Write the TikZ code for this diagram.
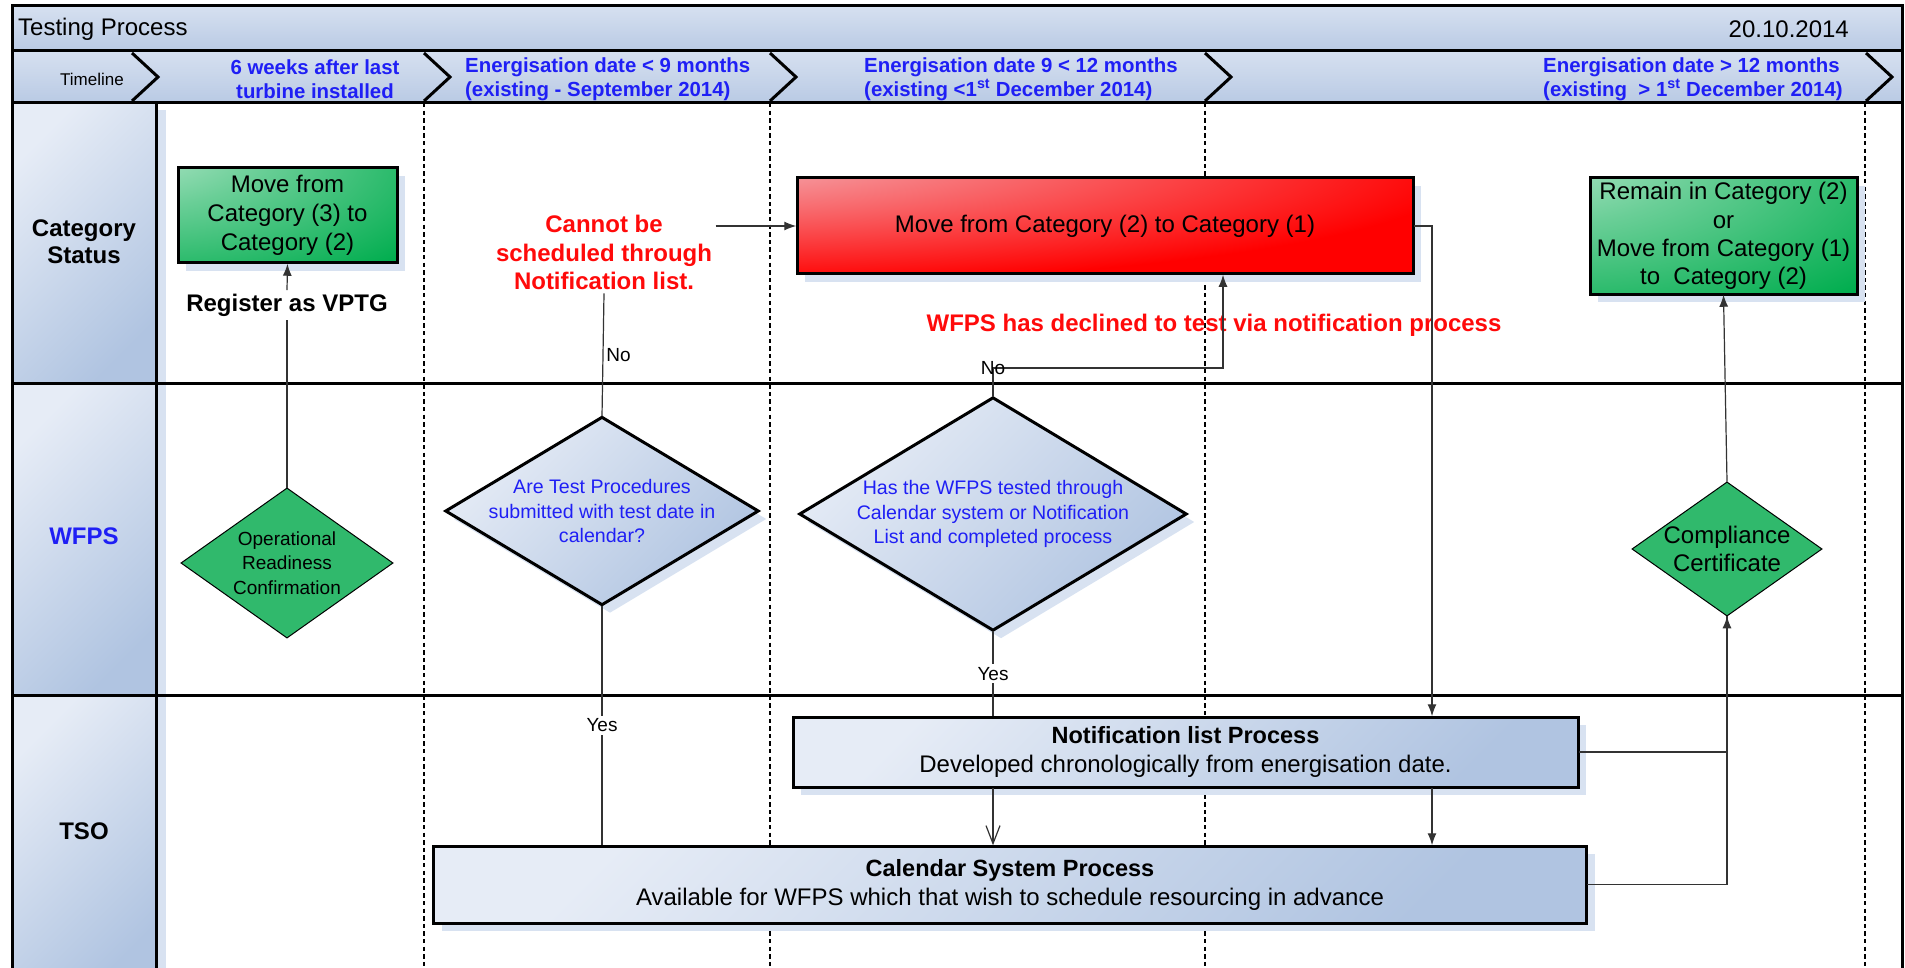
\documentclass[tikz,border=0pt]{standalone}
\usepackage{fontspec}
\setmainfont{Liberation Sans}
\usepackage{xcolor}
\usepackage{tikz}
\usetikzlibrary{shapes, calc, arrows, arrows.meta, shadows, positioning}

\definecolor{lanelt}{HTML}{E6ECF6}
\definecolor{lanedk}{HTML}{B0C4E1}
\definecolor{barlt}{HTML}{D6E0F0}
\definecolor{bardk}{HTML}{B9CAE4}
\definecolor{gboxlt}{HTML}{D4F0E0}
\definecolor{gboxdk}{HTML}{00AD4E}
\definecolor{greendiam}{HTML}{30B96C}
\definecolor{rboxlt}{HTML}{F0E4EC}
\definecolor{shadowbl}{HTML}{D8E2F1}
\definecolor{txtblue}{HTML}{1F1FF5}
\definecolor{txtred}{HTML}{FF0A0A}

\pgfdeclareradialshading{redcorner}{\pgfpoint{-45bp}{45bp}}{color(0bp)=(rboxlt); color(25bp)=(red!45!rboxlt); color(58bp)=(red); color(160bp)=(red)}
\pgfdeclareradialshading{greencorner}{\pgfpoint{-45bp}{45bp}}{color(0bp)=(gboxlt); color(32bp)=(gboxdk!50!gboxlt); color(70bp)=(gboxdk); color(160bp)=(gboxdk)}

\begin{document}
\begin{tikzpicture}[x=1pt, y=-1pt, scale=0.5, every node/.style={transform shape}]
	\tikzstyle{swim}=[line width=1.5pt, draw=black]
	\tikzstyle{period}=[line width=1.4pt, draw=black, dash pattern=on 2.2pt off 1.6pt]
	\tikzstyle{shadowed}=[drop shadow={shadow xshift=4pt, shadow yshift=-4pt, fill=shadowbl, opacity=1}]
	\tikzstyle{procbox}=[draw=black, line width=1.5pt, top color=lanelt, bottom color=lanedk, shading angle=45, shadowed, align=center, font=\fontsize{24}{29}\selectfont]
	\tikzstyle{greenbox}=[procbox, shade, shading=greencorner, shading angle=0, inner sep=2pt]
	\tikzstyle{catred}=[procbox, shade, shading=redcorner, shading angle=0]
	\tikzstyle{qdiam}=[diamond, draw=black, line width=1.5pt, inner sep=0pt, top color=lanelt, bottom color=lanedk, shading angle=45, shadowed]
	\tikzstyle{gdiamond}=[diamond, draw=black, line width=0.5pt, inner sep=0pt, fill=greendiam]
	\tikzstyle{qtext}=[align=center, text=txtblue, font=\fontsize{19.6}{24.5}\selectfont]
	\tikzstyle{gtext}=[align=center, font=\fontsize{19}{24.5}\selectfont]
	\tikzstyle{alert}=[align=center, text=txtred, font=\bfseries\fontsize{24}{28.5}\selectfont]
	\tikzstyle{lanetext}=[align=center, font=\bfseries\fontsize{24}{27}\selectfont]
	\tikzstyle{phase}=[align=left, inner sep=0pt, text=txtblue, font=\bfseries\fontsize{20.4}{24}\selectfont]
	\tikzstyle{yesno}=[font=\fontsize{19}{22}\selectfont, inner sep=3pt]
	\tikzstyle{conn}=[line width=0.6pt, draw=black!80]
	\tikzstyle{flow}=[conn, -{Latex[length=6pt, width=4.5pt]}]
	
	\useasboundingbox (0,0) rectangle (1905,968);
	\clip (0,0) rectangle (1905,968);
	
	%% swimlane frame
	\shade [top color=barlt, bottom color=bardk] (12,6) rectangle (1902,51);
	\shade [top color=barlt, bottom color=bardk] (12,51) rectangle (1902,103);
	\shade [top color=lanelt, bottom color=lanedk, shading angle=45] (12,103) rectangle (156,383);
	\shade [top color=lanelt, bottom color=lanedk, shading angle=45] (12,383) rectangle (156,695);
	\shade [top color=lanelt, bottom color=lanedk, shading angle=45] (12,695) rectangle (156,990);
	\fill [shadowbl] (157,110) rectangle (166,990);
	
	\draw [swim] (12,6) rectangle (1902,990);
	\draw [swim] (12,51) -- (1902,51);
	\draw [swim] (12,103) -- (1902,103);
	\draw [swim] (12,383) -- (1902,383);
	\draw [swim] (12,695) -- (1902,695);
	\draw [swim] (156,103) -- (156,990);
	\foreach \px in {424,770,1205,1865}
		\draw [period] (\px,103) -- (\px,990);
	\foreach \px in {132,424,770,1205,1866}
		\draw [swim] (\px,53) -- (\px+26,77) -- (\px,101);
	
	\node (title) at (18,29) [anchor=west, inner sep=0pt, font=\fontsize{24}{28}\selectfont] {Testing Process};
	\node (date) at (1849,29) [anchor=east, inner sep=0pt, font=\fontsize{24}{28}\selectfont] {20.10.2014};
	\node (timeline) at (92,79) [font=\fontsize{17}{20}\selectfont] {Timeline};
	\node (ph0) at (315,79) [phase, align=center] {6 weeks after last\\turbine installed};
	\node (ph1) at (465,79) [phase, anchor=west] {Energisation date < 9 months\\(existing - September 2014)};
	\node (ph2) at (864,79) [phase, anchor=west] {Energisation date 9 < 12 months\\(existing <1\textsuperscript{st} December 2014)};
	\node (ph3) at (1543,79) [phase, anchor=west] {Energisation date > 12 months\\(existing\ \ > 1\textsuperscript{st} December 2014)};
	
	\node (lcat) at (84,242) [lanetext] {Category\\Status};
	\node (lwfps) at (84,536) [lanetext, text=txtblue] {WFPS};
	\node (ltso) at (84,831) [lanetext] {TSO};
	
	%% category status
	\node (cat32) at (287.5,215.5) [greenbox, minimum width=219pt, minimum height=95pt] {Move from\\Category (3) to\\Category (2)};
	\node (regvptg) at (287,305) [alert, text=black] {Register as VPTG};
	\node (nolist) at (604,252.5) [alert] {Cannot be\\scheduled through\\Notification list.};
	\node (cat21) at (1105,226) [catred, minimum width=616pt, minimum height=96pt] {Move from Category (2) to Category (1)};
	\node (declined) at (1214,325) [alert] {WFPS has declined to test via notification process};
	\node (catok) at (1723.5,236) [greenbox, minimum width=267pt, minimum height=116pt, font=\fontsize{24}{28.3}\selectfont] {Remain in Category (2)\\or\\Move from Category (1)\\to\ \ Category (2)};
	
	%% wfps
	\node (opready) at (287,563) [gdiamond, minimum width=212pt, minimum height=150pt] {};
	\node (opreadyt) at (opready) [gtext] {Operational\\Readiness\\Confirmation};
	\node (qproc) at (602,511) [qdiam, minimum width=313pt, minimum height=188pt] {};
	\node (qproct) at (qproc) [qtext] {Are Test Procedures\\submitted with test date in\\calendar?};
	\node (qtest) at (993,514) [qdiam, minimum width=387pt, minimum height=233pt] {};
	\node (qtestt) at (qtest) [qtext] {Has the WFPS tested through\\Calendar system or Notification\\List and completed process};
	\node (compcert) at (1727,549) [gdiamond, minimum width=190pt, minimum height=134pt] {};
	\node (compcertt) at (compcert) [gtext, font=\fontsize{24}{28}\selectfont] {Compliance\\Certificate};
	
	%% tso
	\node (notif) at (1185.5,752) [procbox, minimum width=785pt, minimum height=70pt] {{\bfseries\fontsize{23.5}{29}\selectfont Notification list Process}\\Developed chronologically from energisation date.};
	\node (calsys) at (1010,884.5) [procbox, minimum width=1153pt, minimum height=77pt] {{\bfseries\fontsize{23.5}{29}\selectfont Calendar System Process}\\Available for WFPS which that wish to schedule resourcing in advance};
	
	\coordinate (xdrop) at (1432,0);
	\coordinate (xback) at (1223,368);
	
	\draw [conn] (opready.north) -- (regvptg.south);
	\draw [flow] (regvptg.north) -- (cat32.south);
	\draw [conn] (qproc.north) -- node [yesno, right] (no1) {No} (nolist.south);
	\draw [flow] (nolist.east |- cat21.west) -- (cat21.west);
	\draw [flow] (qtest.north) |- node [yesno, pos=0.5] (no2) {No} (xback) -- (cat21.south -| xback);
	\draw [flow] (cat21.east) -| (notif.north -| xdrop);
	\draw [flow] (notif.south -| xdrop) -- (calsys.north -| xdrop);
	\draw [conn] (qproc.south) -- node [yesno, fill=white] (yes1) {Yes} (calsys.north -| qproc.south);
	\draw [conn] (qtest.south) -- node [yesno, fill=white] (yes2) {Yes} (notif.north -| qtest.south);
	\draw [conn, -{Straight Barb[length=9pt, width=7pt]}] (notif.south -| qtest.south) -- (calsys.north -| qtest.south);
	\draw [flow] (calsys.east) -| (compcert.south);
	\draw [conn] (notif.east) -| (compcert.south);
	\draw [flow] (compcert.north) -- (catok.south);
\end{tikzpicture}
\end{document}
